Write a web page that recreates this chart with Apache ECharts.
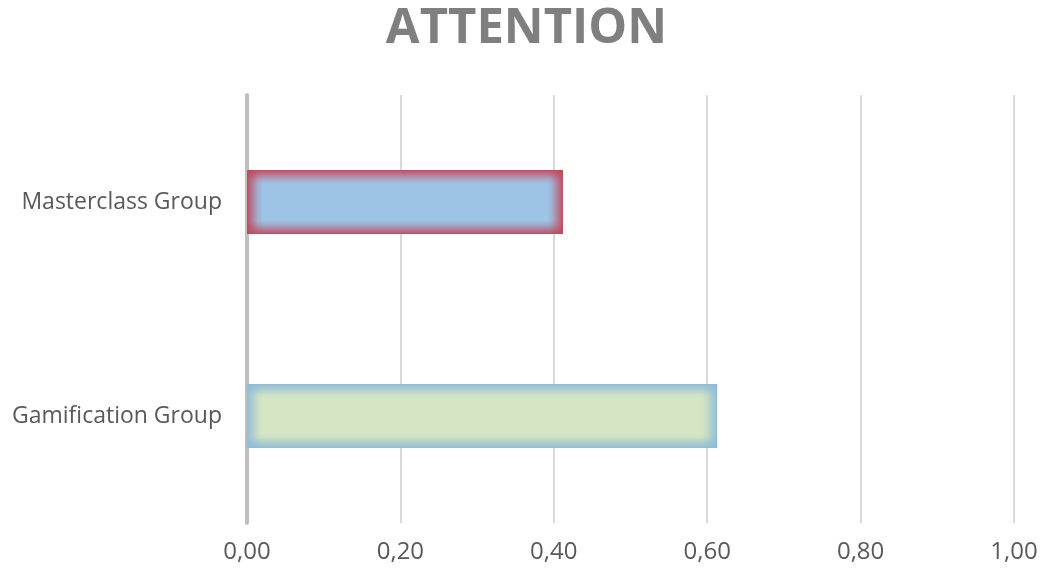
<!DOCTYPE html>
<html>
<head>
<meta charset="utf-8">
<script src="https://cdn.jsdelivr.net/npm/echarts@6/dist/echarts.min.js"></script>
<style>
html, body { margin: 0; padding: 0; background: #fff; }
#chart { width: 1053px; height: 572px; }
</style>
</head>
<body>
<div id="chart"></div>
<script>
// Categories listed bottom-to-top (ECharts category y axis starts at the bottom)
const categories = ['Gamification Group', 'Masterclass Group'];
const values = [0.613, 0.412];
const fillColors = ['#d3e5c3', '#9dc3e6'];
const glowColors = ['#8cbad8', '#c0485a'];
const xTicks = { min: 0, max: 1, interval: 0.2 };

const chart = echarts.init(document.getElementById('chart'));

// Soft inner glow: a gradient that is opaque at both edges and clear in the middle
function fade(color, edge, vertical) {
  const a = (x) => echarts.color.modifyAlpha(color, x);
  return new echarts.graphic.LinearGradient(0, 0, vertical ? 0 : 1, vertical ? 1 : 0, [
    { offset: 0, color: a(0.95) },
    { offset: edge * 0.35, color: a(0.55) },
    { offset: edge * 0.7, color: a(0.18) },
    { offset: edge, color: a(0) },
    { offset: 1 - edge, color: a(0) },
    { offset: 1 - edge * 0.7, color: a(0.18) },
    { offset: 1 - edge * 0.35, color: a(0.55) },
    { offset: 1, color: a(0.95) }
  ]);
}

const baseData = values.map((v, i) => ({
  value: v,
  itemStyle: { color: fillColors[i] }
}));
const vGlow = values.map((v, i) => ({ value: v, itemStyle: { color: fade(glowColors[i], 0.22, true) } }));
const hGlow = values.map((v, i) => ({ value: v, itemStyle: { color: fade(glowColors[i], 0.02 / v, false) } }));

chart.setOption({
  animation: false,
  title: {
    text: 'ATTENTION',
    left: 'center',
    top: 0,
    textStyle: {
      fontFamily: 'Open Sans',
      fontWeight: 'bold',
      fontSize: 49,
      color: '#7f7f7f'
    }
  },
  grid: { left: 247, right: 39, top: 95, bottom: 49 },
  xAxis: {
    type: 'value',
    min: xTicks.min,
    max: xTicks.max,
    interval: xTicks.interval,
    axisLine: { show: false },
    axisTick: { show: false },
    splitLine: { lineStyle: { color: '#d9d9d9', width: 2 } },
    axisLabel: {
      margin: 17,
      fontFamily: 'Open Sans',
      fontSize: 24,
      color: '#595959',
      formatter: v => v.toFixed(2).replace('.', ',')
    }
  },
  yAxis: {
    type: 'category',
    data: categories,
    axisLine: { lineStyle: { color: '#bfbfbf', width: 4 } },
    axisTick: { show: false },
    axisLabel: {
      margin: 25,
      fontFamily: 'Open Sans',
      fontSize: 23,
      color: '#595959'
    }
  },
  series: [
    { type: 'bar', data: baseData, barWidth: 64, barGap: '-100%' },
    { type: 'bar', data: vGlow, barWidth: 64, barGap: '-100%', silent: true },
    { type: 'bar', data: hGlow, barWidth: 64, barGap: '-100%', silent: true }
  ]
});
</script>
</body>
</html>
